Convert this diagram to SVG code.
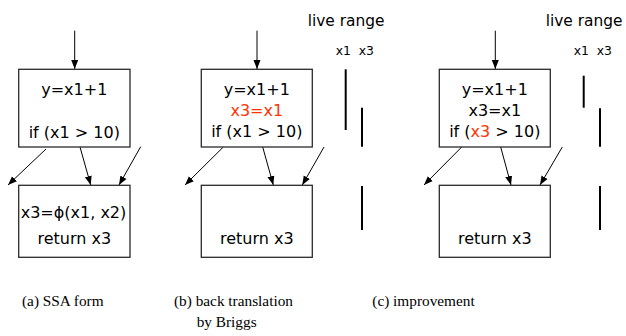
<svg xmlns="http://www.w3.org/2000/svg" width="626" height="336" viewBox="0 0 626 336">
<style>
.box{fill:#fff;stroke:#2a2a2a;stroke-width:1.3}
.t{font-family:"DejaVu Sans",Verdana,sans-serif;font-size:16px;fill:#000;text-anchor:middle}
.red{fill:#ff3300}
.lr{font-family:"DejaVu Sans",Verdana,sans-serif;font-size:15.4px;fill:#000}
.sm{font-family:"DejaVu Sans",Verdana,sans-serif;font-size:12.4px;fill:#000;white-space:pre}
.cap{font-family:"Liberation Serif","Times New Roman",serif;font-size:15.3px;fill:#000}
.e{stroke:#000;stroke-width:1;fill:none;marker-end:url(#ah)}
.bar{stroke:#000;stroke-width:2}
</style>
<defs>
<marker id="ah" markerUnits="userSpaceOnUse" markerWidth="10" markerHeight="10" viewBox="0 0 10 10" refX="9" refY="5" orient="auto">
<path d="M0,1.5 L9,5 L0,8.5 Z" fill="#000"/>
</marker>
</defs>
<g id="connectors">
<line class="e" x1="74.7" y1="30.7" x2="74.7" y2="69"/>
<line class="e" x1="46" y1="149" x2="8" y2="185"/>
<line class="e" x1="80" y1="147" x2="90.7" y2="185"/>
<line class="e" x1="140.7" y1="146.7" x2="119" y2="185"/>
<line class="e" x1="257" y1="30.7" x2="257" y2="69"/>
<line class="e" x1="223.3" y1="147" x2="185" y2="185"/>
<line class="e" x1="262.7" y1="147" x2="273.3" y2="185"/>
<line class="e" x1="324" y1="147" x2="302.3" y2="185"/>
<line class="e" x1="495.3" y1="30.7" x2="495.3" y2="69"/>
<line class="e" x1="461.7" y1="147" x2="424" y2="185"/>
<line class="e" x1="500.7" y1="147" x2="511" y2="185"/>
<line class="e" x1="562.3" y1="147" x2="540" y2="185"/>
</g>
<g id="a-top">
<rect class="box" x="18.7" y="69.3" width="111.3" height="77.7"/>
<text class="t" x="74.3" y="94.5">y=x1+1</text>
<text class="t" x="74.3" y="137.5">if (x1 &gt; 10)</text>
</g>
<g id="a-bottom">
<rect class="box" x="18.7" y="185.3" width="111.3" height="72"/>
<text class="t" x="73.5" y="217.5">x3=ϕ(x1, x2)</text>
<text class="t" x="74.3" y="243.5">return x3</text>
</g>
<g id="b-top">
<rect class="box" x="201.3" y="69.3" width="111" height="77.7"/>
<text class="t" x="256.8" y="94.5">y=x1+1</text>
<text class="t red" x="256.8" y="115.5">x3=x1</text>
<text class="t" x="256.8" y="136.5">if (x1 &gt; 10)</text>
</g>
<g id="b-bottom">
<rect class="box" x="201.3" y="185.3" width="111" height="72"/>
<text class="t" x="256.8" y="244">return x3</text>
</g>
<g id="b-live">
<text class="lr" x="307.7" y="25.5">live range</text>
<text class="sm" x="335.7" y="55">x1  x3</text>
<line class="bar" x1="345.7" y1="69.3" x2="345.7" y2="130"/>
<line class="bar" x1="362" y1="107.7" x2="362" y2="146.7"/>
<line class="bar" x1="362" y1="186" x2="362" y2="230"/>
</g>
<g id="c-top">
<rect class="box" x="439.3" y="69.3" width="111" height="77.7"/>
<text class="t" x="494.8" y="94.5">y=x1+1</text>
<text class="t" x="494.8" y="115.5">x3=x1</text>
<text class="t" x="494.8" y="136.5">if (<tspan class="red">x3</tspan> &gt; 10)</text>
</g>
<g id="c-bottom">
<rect class="box" x="439.3" y="185.3" width="111" height="72"/>
<text class="t" x="494.8" y="244">return x3</text>
</g>
<g id="c-live">
<text class="lr" x="545.7" y="25.5">live range</text>
<text class="sm" x="573.7" y="55">x1  x3</text>
<line class="bar" x1="583.7" y1="75.7" x2="583.7" y2="107.7"/>
<line class="bar" x1="600" y1="108.3" x2="600" y2="146.7"/>
<line class="bar" x1="600" y1="186" x2="600" y2="230"/>
</g>
<g id="captions">
<text class="cap" x="22" y="305.5">(a) SSA form</text>
<text class="cap" x="174" y="305.5">(b) back translation</text>
<text class="cap" x="196.7" y="327">by Briggs</text>
<text class="cap" x="372.3" y="305.5">(c) improvement</text>
</g>
</svg>
